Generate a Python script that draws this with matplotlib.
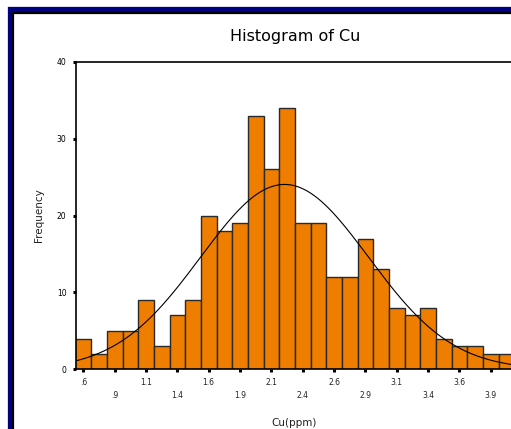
import numpy as np
import matplotlib
matplotlib.use("Agg")
import matplotlib.pyplot as plt
from matplotlib.patches import Rectangle

# ---- data ----
bin_width = 0.125
first_mid = 0.625
counts = [4, 2, 5, 5, 9, 3, 7, 9, 20, 18, 19, 33, 26, 34, 19, 19, 12, 12, 17, 13,
          8, 7, 8, 4, 3, 3, 2, 2]
tick_values_row1 = [0.625, 1.125, 1.625, 2.125, 2.625, 3.125, 3.625]
tick_labels_row1 = [".6", "1.1", "1.6", "2.1", "2.6", "3.1", "3.6"]
tick_values_row2 = [0.875, 1.375, 1.875, 2.375, 2.875, 3.375, 3.875]
tick_labels_row2 = [".9", "1.4", "1.9", "2.4", "2.9", "3.4", "3.9"]
y_ticks = [0, 10, 20, 30, 40]
fit_mean = 2.23
fit_std = 0.67

W, H = 511, 429
fig = plt.figure(figsize=(W / 100, H / 100), dpi=100)
fig.patch.set_facecolor("white")

# frame
fig.patches.append(Rectangle((9.5 / W, -0.2), 1.5, 1 - 9.5 / H + 0.2, transform=fig.transFigure,
                             fill=False, edgecolor="#000080", linewidth=3.8, zorder=0))
fig.patches.append(Rectangle((12.8 / W, -0.2), 1.5, 1 - 12.8 / H + 0.2, transform=fig.transFigure,
                             fill=False, edgecolor="black", linewidth=1.6, zorder=0))

px_per_bin = 15.67
x0 = first_mid - bin_width / 2
xmax = 4.1875
ax_left = 75.5
ax_w = (xmax - x0) / bin_width * px_per_bin
ax_bottom = 369.3
ax_top = 61.7
ax = fig.add_axes([ax_left / W, 1 - ax_bottom / H, ax_w / W, (ax_bottom - ax_top) / H])

mids = first_mid + bin_width * np.arange(len(counts))
ax.bar(mids, counts, width=bin_width, color="#EE7D00", edgecolor="#2a2a2a",
       linewidth=1.0, zorder=2)

xs = np.linspace(x0, xmax, 400)
n = sum(counts)
ys = n * bin_width / (fit_std * np.sqrt(2 * np.pi)) * np.exp(-0.5 * ((xs - fit_mean) / fit_std) ** 2)
ax.plot(xs, ys, color="black", linewidth=0.8, zorder=3)

ax.set_xlim(x0, xmax)
ax.set_ylim(0, 40)

for s in ["left", "bottom", "top"]:
    ax.spines[s].set_color("black")
    ax.spines[s].set_linewidth(1.2)
ax.spines["right"].set_visible(False)

ax.set_xticks(tick_values_row1)
ax.set_xticklabels(tick_labels_row1)
ax.set_xticks(tick_values_row2, minor=True)
ax.set_xticklabels(tick_labels_row2, minor=True)
ax.tick_params(axis="x", which="major", direction="out", length=2.5, width=2.2,
               pad=3.5, labelsize=5.5, colors="black")
ax.tick_params(axis="x", which="minor", direction="out", length=2.5, width=2.2,
               pad=13, labelsize=5.5, colors="black")
ax.set_yticks(y_ticks)
ax.set_yticklabels([str(v) for v in y_ticks])
ax.tick_params(axis="y", direction="out", length=2.5, width=2.2, pad=4,
               labelsize=5.5, colors="black")
for lab in ax.get_xticklabels(minor=False) + ax.get_xticklabels(minor=True):
    lab.set_color("#222222")

fig.text(295 / W, 1 - 36 / H, "Histogram of Cu", ha="center", va="center",
         fontsize=11.5, color="black")
fig.text(39 / W, 1 - 215 / H, "Frequency", ha="center", va="center",
         rotation=90, fontsize=7.5, color="#222222")
fig.text(294 / W, 1 - 427.5 / H, "Cu(ppm)", ha="center", va="bottom",
         fontsize=7.5, color="#222222")

fig.savefig("out.png", dpi=100)
